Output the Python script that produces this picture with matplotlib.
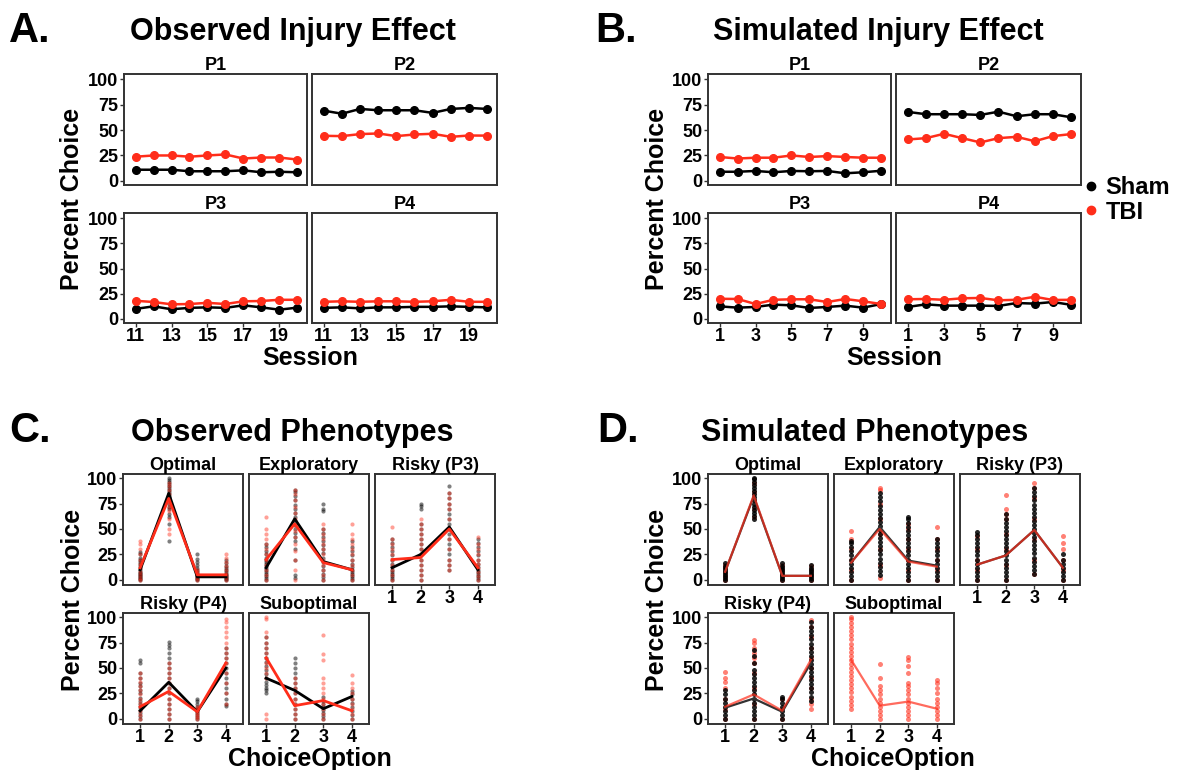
import matplotlib
matplotlib.use("Agg")
import matplotlib.pyplot as plt
from matplotlib.lines import Line2D

plt.rcParams['font.family'] = ['Liberation Sans', 'DejaVu Sans']
plt.rcParams['font.weight'] = 'bold'

W, H = 1183, 770
RED = '#FF2D1A'
BLACK = '#000000'
EDGE = '#333333'

# ---------------- Panel A / B data ----------------
obs_sessions = [11, 12, 13, 14, 15, 16, 17, 18, 19, 20]
sim_sessions = [1, 2, 3, 4, 5, 6, 7, 8, 9, 10]
obs_ticks = [11, 13, 15, 17, 19]
sim_ticks = [1, 3, 5, 7, 9]
y_ticks = [0, 25, 50, 75, 100]
facets_ab = ['P1', 'P2', 'P3', 'P4']

obs_sham = {
    'P1': [11, 11, 11, 9.5, 9.5, 9.5, 10.4, 8.5, 9, 8.5],
    'P2': [69, 66, 70.7, 69.4, 69.4, 69.4, 66.8, 70.7, 71.7, 70.7],
    'P3': [10, 12.5, 9.6, 11, 11.5, 11, 13.5, 11.5, 9.2, 11.2],
    'P4': [11, 11.5, 10.5, 11.5, 11.5, 12, 12, 12.5, 12, 11.5],
}
obs_tbi = {
    'P1': [23.8, 25, 25, 23.8, 25, 26, 22, 23, 23, 21],
    'P2': [44.3, 44, 46, 46.6, 44, 45.6, 46.3, 43.3, 44.6, 44.5],
    'P3': [18, 16.8, 14.5, 14.8, 16, 14.8, 17.5, 17.8, 19, 19],
    'P4': [17, 17.5, 17, 17.5, 17.5, 17, 17.5, 19, 17, 17],
}
sim_sham = {
    'P1': [9, 9, 9.8, 8.5, 9.8, 9.5, 9.8, 7.5, 8.5, 10],
    'P2': [67.8, 65.5, 65.5, 65.5, 64.8, 68, 63.5, 65.5, 65.5, 62.5],
    'P3': [12.5, 11.2, 11.9, 14.2, 13.5, 10.9, 11.9, 13.2, 11.2, 14.8],
    'P4': [11.9, 14.5, 13.2, 13.2, 13.2, 12.9, 15.8, 15.2, 16.8, 14],
}
sim_tbi = {
    'P1': [23.5, 22, 22.8, 22.8, 25, 23.5, 24.4, 23.5, 22.8, 22.8],
    'P2': [40.7, 42, 46.3, 42, 37.8, 42, 43.3, 39, 44, 46],
    'P3': [20, 19.8, 14.8, 19, 19.5, 19.5, 16.8, 19.8, 17.5, 14.8],
    'P4': [19.5, 19.8, 19, 20.5, 20.8, 18.5, 19, 22, 18.8, 19],
}

# ---------------- Panel C / D data ----------------
options = [1, 2, 3, 4]
phenotypes = ['Optimal', 'Exploratory', 'Risky (P3)', 'Risky (P4)', 'Suboptimal']

obs_mean_sham = {
    'Optimal': [10, 85, 3, 3],
    'Exploratory': [12, 60, 18, 10],
    'Risky (P3)': [12, 25, 52, 10],
    'Risky (P4)': [8, 36, 7, 50],
    'Suboptimal': [40, 28, 10, 22],
}
obs_mean_tbi = {
    'Optimal': [12, 80, 5, 5],
    'Exploratory': [20, 55, 17, 10],
    'Risky (P3)': [20, 22, 50, 12],
    'Risky (P4)': [12, 27, 7, 55],
    'Suboptimal': [60, 13, 18, 8],
}
sim_mean_sham = {
    'Optimal': [8, 82, 4, 4],
    'Exploratory': [17, 52, 19, 14],
    'Risky (P3)': [15, 24, 49, 12],
    'Risky (P4)': [11, 20, 7, 55],
}
sim_mean_tbi = {
    'Optimal': [8, 83, 4, 4],
    'Exploratory': [17, 50, 18, 13],
    'Risky (P3)': [15, 24, 49, 12],
    'Risky (P4)': [12, 24, 8, 58],
    'Suboptimal': [58, 13, 17, 10],
}

obs_pts_sham = {
    'Optimal': [[0, 1, 2, 3, 4, 5, 6, 7, 8, 10, 12, 14, 16, 18, 20, 22, 25, 27],
                [38, 55, 62, 65, 70, 72, 75, 78, 80, 82, 84, 86, 88, 90, 92, 94, 96, 98, 100],
                [0, 1, 2, 3, 4, 5, 6, 8, 10, 12, 15, 18, 21, 25],
                [0, 1, 2, 3, 4, 5, 6, 8, 10, 12, 14, 17, 20]],
    'Exploratory': [[0, 2, 4, 6, 8, 10, 12, 14, 16, 18, 20, 22, 25, 28, 32, 35],
                    [2, 5, 20, 30, 38, 42, 46, 50, 54, 58, 62, 66, 70, 74, 78, 82, 86, 88],
                    [0, 3, 6, 10, 14, 18, 22, 26, 30, 34, 38, 42, 46, 50, 68, 70, 75],
                    [0, 2, 4, 6, 8, 10, 13, 16, 20, 24, 28, 32, 38]],
    'Risky (P3)': [[0, 2, 4, 6, 8, 10, 13, 16, 20, 24, 28, 32, 36, 40],
                   [0, 5, 10, 15, 20, 25, 30, 35, 40, 45, 50, 55, 70, 73, 75],
                   [10, 15, 20, 25, 30, 35, 40, 45, 50, 55, 60, 65, 70, 75, 80, 85, 92],
                   [0, 2, 4, 6, 8, 10, 13, 16, 20, 24, 28, 32, 36, 40]],
    'Risky (P4)': [[0, 3, 6, 9, 12, 15, 18, 21, 25, 28, 32, 35, 40, 45, 55, 58],
                   [0, 5, 10, 15, 20, 25, 30, 35, 40, 45, 50, 55, 60, 65, 70, 73, 76],
                   [0, 2, 4, 6, 8, 10, 12, 15, 18, 20],
                   [13, 15, 20, 25, 30, 35, 40, 45, 50, 55, 60, 65, 70]],
    'Suboptimal': [[25, 28, 30, 33, 36, 40, 44, 48, 52, 56, 60, 65, 70, 75, 80],
                   [0, 5, 10, 15, 20, 25, 30, 35, 40, 45, 50, 55, 60],
                   [0, 3, 6, 9, 12, 15, 18, 22],
                   [0, 4, 8, 12, 16, 20, 24, 27]],
}
obs_pts_tbi = {
    'Optimal': [[0, 2, 5, 8, 12, 16, 20, 25, 30, 35, 38],
                [45, 50, 60, 68, 72, 76, 80, 84, 88, 92, 95],
                [0, 2, 4, 6, 8, 10],
                [0, 3, 6, 10, 14, 18, 22, 25]],
    'Exploratory': [[0, 5, 10, 15, 20, 25, 30, 35, 40, 45, 50, 62],
                    [0, 10, 20, 28, 35, 42, 48, 54, 60, 66, 72, 78, 84, 88],
                    [0, 5, 10, 15, 20, 25, 30, 35, 40, 45, 50, 55],
                    [0, 5, 10, 15, 20, 25, 30, 35, 40, 45, 55]],
    'Risky (P3)': [[0, 5, 10, 15, 20, 25, 30, 35, 40, 52],
                   [0, 5, 10, 15, 20, 25, 30, 35, 40, 45, 50, 55, 60],
                   [10, 15, 20, 30, 40, 50, 60, 70, 75, 80, 85],
                   [0, 4, 8, 12, 16, 20, 25, 30, 35, 42]],
    'Risky (P4)': [[0, 4, 8, 12, 16, 20, 24, 28, 32, 36, 40, 45],
                   [0, 5, 10, 15, 20, 25, 30, 35, 40, 45, 50, 55],
                   [0, 2, 4, 6, 8, 10, 12],
                   [15, 25, 35, 45, 55, 60, 65, 70, 75, 80, 85, 90, 95, 98]],
    'Suboptimal': [[0, 5, 40, 45, 50, 55, 60, 65, 70, 75, 80, 85, 98, 100],
                   [0, 5, 10, 15, 20, 25, 30, 35, 40],
                   [0, 5, 10, 15, 20, 25, 30, 35, 40, 58, 64, 82],
                   [0, 5, 10, 15, 20, 25, 30, 35, 43]],
}
sim_pts_sham = {
    'Optimal': [[0, 2, 4, 6, 8, 10, 12, 14, 17],
                [60, 63, 66, 69, 72, 75, 78, 81, 84, 87, 90, 93, 96, 99, 100],
                [0, 2, 4, 6, 8, 10, 12, 14, 17],
                [0, 2, 4, 6, 8, 10, 12, 15]],
    'Exploratory': [[0, 4, 8, 12, 16, 20, 24, 28, 32, 36, 38],
                    [5, 9, 13, 17, 21, 25, 29, 33, 37, 41, 45, 49, 53, 57, 61, 65, 69, 73, 77, 81, 85],
                    [0, 4, 8, 12, 16, 20, 24, 28, 32, 36, 40, 44, 48, 52, 56, 60, 62],
                    [0, 4, 8, 12, 16, 20, 24, 28, 32, 36, 40]],
    'Risky (P3)': [[0, 4, 8, 12, 16, 20, 24, 28, 32, 36, 40, 44, 47],
                   [0, 4, 8, 12, 16, 20, 24, 28, 32, 36, 40, 44, 48, 52, 56, 60, 65],
                   [6, 10, 14, 18, 22, 26, 30, 34, 38, 42, 46, 50, 54, 58, 62, 66, 70, 74, 78, 82, 86, 90],
                   [0, 4, 8, 12, 16, 20, 25]],
    'Risky (P4)': [[0, 4, 8, 12, 16, 20, 24, 28],
                   [0, 4, 8, 12, 16, 20, 24, 28, 32, 36, 40, 44, 48, 55, 62, 68],
                   [0, 4, 8, 12, 16, 20, 22],
                   [18, 22, 26, 30, 34, 38, 42, 46, 50, 54, 58, 62, 66, 70, 74, 78, 82, 86, 90, 95]],
}
sim_pts_tbi = {
    'Optimal': [[0, 4, 8, 12, 15],
                [62, 70, 78, 86, 95],
                [0, 5, 10, 15],
                [0, 5, 10, 14]],
    'Exploratory': [[0, 10, 20, 30, 40, 48],
                    [2, 15, 30, 45, 60, 75, 88, 90],
                    [0, 10, 20, 30, 40, 50, 55],
                    [0, 10, 20, 30, 40, 52]],
    'Risky (P3)': [[0, 10, 20, 30, 43],
                   [0, 15, 30, 45, 60, 65, 70, 83],
                   [6, 20, 40, 60, 80, 90, 95],
                   [0, 10, 20, 30, 36, 43]],
    'Risky (P4)': [[0, 10, 20, 30, 36, 40, 46],
                   [0, 15, 30, 45, 55, 60, 65, 70, 75, 77],
                   [0, 10, 20],
                   [10, 15, 20, 30, 40, 50, 60, 70, 80, 90, 97]],
    'Suboptimal': [[10, 14, 18, 22, 26, 30, 34, 38, 42, 46, 50, 54, 58, 62, 66, 70, 74, 78, 82, 86, 90, 94, 98, 100],
                   [0, 4, 8, 12, 16, 20, 24, 28, 32, 40, 54],
                   [0, 4, 8, 12, 16, 20, 24, 28, 32, 35, 45, 52, 58, 61],
                   [0, 4, 8, 12, 16, 20, 25, 30, 35, 38]],
}

fig = plt.figure(figsize=(W / 100, H / 100), dpi=100)


def ax_at(x0, y0, x1, y1):
    return fig.add_axes([x0 / W, 1 - y1 / H, (x1 - x0) / W, (y1 - y0) / H])


def style(ax, show_x, show_y):
    for s in ax.spines.values():
        s.set_color(EDGE)
        s.set_linewidth(1.4)
    ax.tick_params(axis='both', colors=EDGE, length=3, width=1, labelsize=13,
                   labelcolor='black', pad=1.0)
    ax.tick_params(axis='x', pad=0.5)
    if not show_x:
        ax.tick_params(axis='x', length=0, labelbottom=False)
    if not show_y:
        ax.tick_params(axis='y', length=0, labelleft=False)
    for lab in ax.get_xticklabels() + ax.get_yticklabels():
        lab.set_fontweight('bold')


def fig_text(x, y, s, **kw):
    fig.text(x / W, 1 - y / H, s, **kw)


# ---------- A & B ----------
def injury_panel(x_left, sessions, ticks, sham, tbi):
    cols = [(x_left, x_left + 183), (x_left + 188, x_left + 373)]
    rows = [(74, 185), (213, 323)]
    for i, f in enumerate(facets_ab):
        r, c = divmod(i, 2)
        ax = ax_at(cols[c][0], rows[r][0], cols[c][1], rows[r][1])
        ax.plot(sessions, sham[f], color=BLACK, lw=1.8, marker='o', ms=5.5, zorder=3)
        ax.plot(sessions, tbi[f], color=RED, lw=1.8, marker='o', ms=5.5, zorder=3)
        ax.set_xlim(sessions[0] - 0.65, sessions[-1] + 0.55)
        ax.set_ylim(-4, 105)
        ax.set_xticks(ticks)
        ax.set_yticks(y_ticks)
        ax.set_title(f, fontsize=13, fontweight='bold', pad=3)
        style(ax, r == 1, c == 0)


injury_panel(124, obs_sessions, obs_ticks, obs_sham, obs_tbi)
injury_panel(708, sim_sessions, sim_ticks, sim_sham, sim_tbi)


# ---------- C & D ----------
def pheno_panel(x_left, mean_sham, mean_tbi, pts_sham, pts_tbi, sim):
    boxes = [(x_left, 474), (x_left + 126, 474), (x_left + 252, 474),
             (x_left, 613), (x_left + 126, 613)]
    for i, p in enumerate(phenotypes):
        bx, by = boxes[i]
        ax = ax_at(bx, by, bx + 120, by + 111)
        if sim:
            if p in pts_tbi:
                for o, vals in zip(options, pts_tbi[p]):
                    ax.plot([o] * len(vals), vals, ls='none', marker='o', ms=3.6,
                            color=RED, alpha=0.6, mec='none', zorder=2)
            if p in pts_sham:
                for o, vals in zip(options, pts_sham[p]):
                    ax.plot([o] * len(vals), vals, ls='none', marker='o', ms=3.6,
                            color=BLACK, alpha=0.85, mec='none', zorder=2)
            if p in mean_sham:
                ax.plot(options, mean_sham[p], color='#333333', lw=1.6, zorder=4)
            ax.plot(options, mean_tbi[p], color=RED, lw=1.6, alpha=0.7, zorder=5)
        else:
            for o, vals in zip(options, pts_sham[p]):
                ax.plot([o] * len(vals), vals, ls='none', marker='o', ms=3.0,
                        color=BLACK, alpha=0.5, mec='none', zorder=2)
            for o, vals in zip(options, pts_tbi[p]):
                ax.plot([o] * len(vals), vals, ls='none', marker='o', ms=3.0,
                        color=RED, alpha=0.45, mec='none', zorder=2)
            ax.plot(options, mean_sham[p], color=BLACK, lw=2.0, zorder=4)
            ax.plot(options, mean_tbi[p], color=RED, lw=2.0, zorder=5)
        ax.set_xlim(0.4, 4.6)
        ax.set_ylim(-5, 104)
        ax.set_xticks(options)
        ax.set_yticks(y_ticks)
        ax.set_title(p, fontsize=13, fontweight='bold', pad=3)
        style(ax, i >= 2, i in (0, 3))


pheno_panel(123, obs_mean_sham, obs_mean_tbi, obs_pts_sham, obs_pts_tbi, False)
pheno_panel(708, sim_mean_sham, sim_mean_tbi, sim_pts_sham, sim_pts_tbi, True)

# ---------- text ----------
tkw = dict(fontsize=22, fontweight='bold', ha='center', va='baseline')
fig_text(293, 40, 'Observed Injury Effect', **tkw)
fig_text(878, 40, 'Simulated Injury Effect', **tkw)
fig_text(292, 441, 'Observed Phenotypes', **tkw)
fig_text(865, 441, 'Simulated Phenotypes', **tkw)

lkw = dict(fontsize=30, fontweight='bold', ha='left', va='baseline')
fig_text(9, 42, 'A.', **lkw)
fig_text(595, 42, 'B.', **lkw)
fig_text(9, 442, 'C.', **lkw)
fig_text(597, 442, 'D.', **lkw)

akw = dict(fontsize=18, fontweight='bold', ha='center', va='center')
fig_text(72, 199, 'Percent Choice', rotation=90, **akw)
fig_text(657, 199, 'Percent Choice', rotation=90, **akw)
fig_text(73, 600, 'Percent Choice', rotation=90, **akw)
fig_text(657, 600, 'Percent Choice', rotation=90, **akw)
fig_text(310, 358, 'Session', **akw)
fig_text(894, 358, 'Session', **akw)
fig_text(310, 759, 'ChoiceOption', **akw)
fig_text(893, 759, 'ChoiceOption', **akw)

handles = [Line2D([], [], ls='none', marker='o', ms=6, color=BLACK),
           Line2D([], [], ls='none', marker='o', ms=6, color=RED)]
fig.legend(handles, ['Sham', 'TBI'], loc='center left',
           bbox_to_anchor=(1084 / W, 1 - 200 / H), frameon=False,
           prop={'size': 17, 'weight': 'bold'}, handlelength=0.6,
           handletextpad=0.3, labelspacing=0.05, borderpad=0, borderaxespad=0)

fig.savefig('out.png', dpi=100)
